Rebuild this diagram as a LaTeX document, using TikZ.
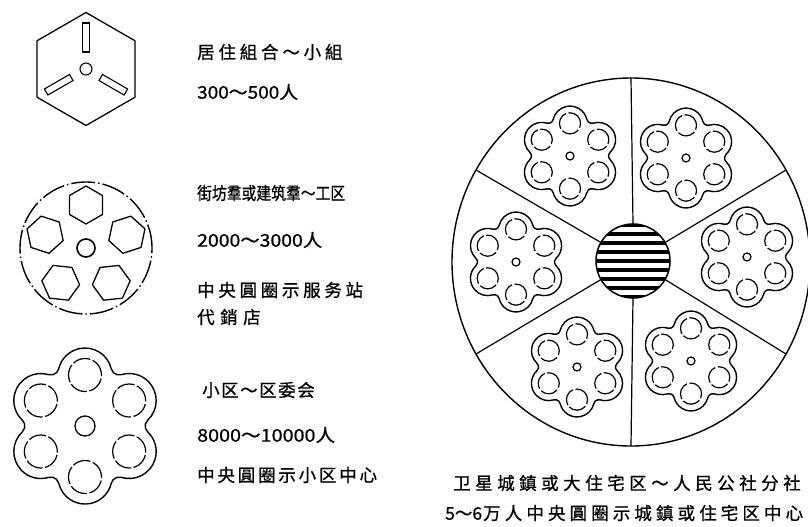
\documentclass[tikz,border=0pt]{standalone}
\usepackage{fontspec}
\usepackage{graphicx}
\usetikzlibrary{calc}
\newfontfamily\cjk[FakeBold=0.8]{Noto Sans CJK SC}
\def\spc#1{\def\spcw{#1}\spcloop}
\def\spcloop#1{\ifx#1\relax\else\makebox[\spcw][l]{#1}\expandafter\spcloop\fi}
\tikzset{
  lbl/.style={anchor=west, inner sep=0pt, font=\cjk\fontsize{17.5}{17.5}\selectfont},
  ln/.style={line width=1.3pt, line join=round},
  flw/.style={line width=1.4pt, line join=round},
  dsh/.style={line width=1.2pt, dash pattern=on 18pt off 2.5pt},
  flower/.pic={
    \draw[flw] (26.29,57.17)
      \foreach \t in {90,150,210,270,330,390}{
        arc[start angle=\t-76.8, end angle=\t+76.8, radius=27]
        arc[start angle=\t-103.2, end angle=\t-196.8, radius=8]
      } -- cycle;
    \foreach \t in {90,150,210,270,330}
      \draw[dsh] (\t:51) circle (16.5);
    \draw[dsh] (30:51) circle (16.5);
  }
}
\begin{document}
\begin{tikzpicture}[x=1pt,y=1pt]
\useasboundingbox (0,0) rectangle (808,-527);
% ---- figure 1: hexagon
\coordinate (h1) at (86,-69);
\draw[ln] (h1) +(90:56.5) -- +(150:56.5) -- +(210:56.5) -- +(270:56.5) -- +(330:56.5) -- +(30:56.5) -- cycle;
\draw[line width=1.1pt] (h1) circle (6);
\foreach \r in {0,120,240}
  \draw[line width=1.1pt, shift={(h1)}, rotate=\r] (-3.5,17) rectangle (3.5,46);
% ---- figure 2: dashed circle with hexagons
\coordinate (c2) at (86,-248);
\draw[line width=1.4pt, dash pattern=on 24pt off 3pt on 1.5pt off 3pt] (c2) circle (66);
\draw[line width=1.6pt] (c2) circle (9);
\foreach \a in {90,162,234,306,18}
  \draw[ln, shift={(c2)}, shift={(\a:43)}]
    (\a:19) -- (\a+60:19) -- (\a+120:19) -- (\a+180:19) -- (\a+240:19) -- (\a+300:19) -- cycle;
% ---- figure 3: flower
\pic at (85,-426) {flower};
\draw[ln] (85,-426) circle (10);
% ---- figure 4: big circle
\coordinate (bc) at (631,-262);
\coordinate (hc) at (633,-261);
\draw[line width=1.4pt] (bc) ellipse [x radius=179, y radius=184];
\foreach \a in {30,90,150,210,270,330}
  \draw[line width=1.2pt] ($(bc)+({179*cos(\a)},{184*sin(\a)})$) -- ($(hc)+(\a:37)$);
\begin{scope}
  \clip (hc) circle (37);
  \foreach \yy in {225,234,243,252,261,270,279,288,297}
    \draw[line width=4.8pt] (590,-\yy) -- (680,-\yy);
\end{scope}
\draw[line width=1.5pt] (hc) circle (37);
\foreach \p in {(570,-156),(686,-158),(516,-262),(747,-257),(577,-367),(691,-361)}{
  \pic[scale=0.64] at \p {flower};
  \draw[line width=1.2pt] \p circle (4);
}
% ---- texts
\node[lbl] (t1) at (197,-52) {\spc{21.3pt}居住組合～小組\relax};
\node[lbl] (t2) at (197,-92) {\resizebox{101pt}{\height}{300～500人}};
\node[lbl] (t3) at (197,-193) {\resizebox{148pt}{\height}{街坊羣或建筑羣～工区}};
\node[lbl] (t4) at (197,-240) {\resizebox{125pt}{\height}{2000～3000人}};
\node[lbl] (t5) at (197,-290) {\spc{21.2pt}中央圓圈示服务站\relax};
\node[lbl] (t6) at (197,-317) {\spc{23pt}代銷店\relax};
\node[lbl] (t7) at (202,-390) {\spc{19pt}小区～区委会\relax};
\node[lbl] (t8) at (197,-435) {\resizebox{138pt}{\height}{8000～10000人}};
\node[lbl] (t9) at (197,-475) {\spc{20.3pt}中央圓圈示小区中心\relax};
\node[lbl] (t10) at (453,-483) {\spc{22pt}卫星城鎮或大住宅区～人民公社分社\relax};
\node[lbl] (t11) at (445,-513) {\makebox[38pt][l]{5～6}\spc{21.6pt}万人中央圓圈示城鎮或住宅区中心\relax};
\end{tikzpicture}
\end{document}
